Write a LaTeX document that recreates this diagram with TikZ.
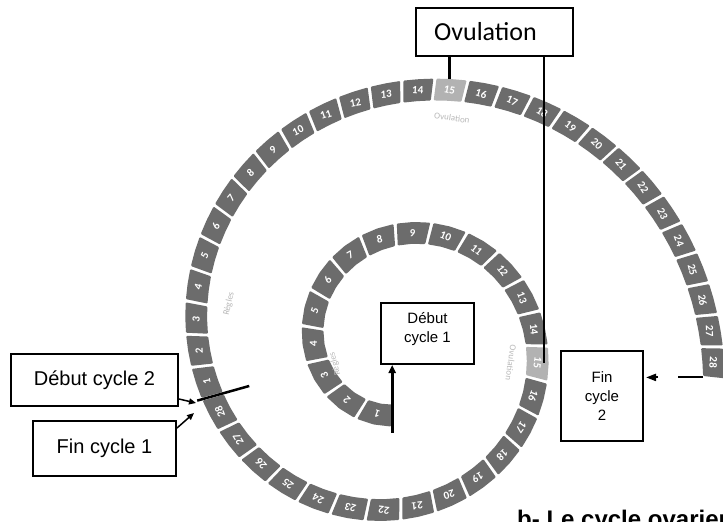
\documentclass[tikz,border=0pt]{standalone}
\usepackage{fontspec}
\setmainfont{Liberation Sans}
\newfontfamily\carl{Carlito}
\usetikzlibrary{arrows.meta}
\definecolor{blk}{RGB}{108,108,108}
\definecolor{blkL}{RGB}{178,178,178}
\definecolor{faint}{RGB}{185,185,185}
\newcommand\spiralpt[1]{%
  \pgfmathsetmacro\spR{72+(#1)/7.6075}%
  \pgfmathsetmacro\spA{deg(ln(\spR/72)/0.1326)+90}%
}
\newcommand\dayblock[5]{%
  \spiralpt{#1}\let\myAa\spA\let\myRa\spR
  \spiralpt{(#1+#2)/2}\let\myAm\spA\let\myRm\spR
  \spiralpt{#2}\let\myAb\spA\let\myRb\spR
  \fill[fill=#4, rounded corners=1pt] (\myAa:{\myRa+11}) -- (\myAm:{\myRm+11}) -- (\myAb:{\myRb+11}) -- (\myAb:{\myRb-11}) -- (\myAm:{\myRm-11}) -- (\myAa:{\myRa-11}) -- cycle;
  \node[daynum, rotate={270-\myAm}] (#5) at (\myAm:\myRm) {#3};
}
\begin{document}
\begin{tikzpicture}[x=1pt,y=-1pt,
  lbox/.style={draw=black, line width=2pt, fill=white, inner sep=0pt, align=center, anchor=north west},
  daynum/.style={text=white, font=\carl\bfseries\fontsize{11}{11}\selectfont, inner sep=0pt},
  faintlbl/.style={text=faint, font=\carl\fontsize{9}{9}\selectfont, inner sep=0pt},
  tipstyle/.style={-{Triangle[length=7pt,width=6pt]}}]
\useasboundingbox (0,0) rectangle (723,522);
\clip (0,0) rectangle (723,522);
\fill[white] (0,0) rectangle (723,522);
\begin{scope}[shift={(402,343)}]
  \foreach \i in {1,...,28}{%
    \pgfmathsetmacro\mySa{8+(\i-1)*33.6+1.5}%
    \pgfmathsetmacro\mySb{8+\i*33.6-1.5}%
    \ifnum\i=15 \def\fc{blkL}\else\def\fc{blk}\fi
    \dayblock{\mySa}{\mySb}{\i}{\fc}{a\i}%
  }
  \foreach \i in {1,...,28}{%
    \pgfmathsetmacro\mySa{948.8+(\i-1)*31.9+1.5}%
    \pgfmathsetmacro\mySb{948.8+\i*31.9-1.5}%
    \ifnum\i=15 \def\fc{blkL}\else\def\fc{blk}\fi
    \dayblock{\mySa}{\mySb}{\i}{\fc}{b\i}%
  }
  \spiralpt{8}
  \coordinate (st1) at (\spA:{\spR+17});
  \spiralpt{948.8}
  \coordinate (bnd1) at (\spA:{\spR+16});
  \coordinate (bnd2) at (\spA:{\spR-38});
  \spiralpt{1842}
  \coordinate (endIn) at (\spA:{\spR-11});
\end{scope}
% faint labels
\node[faintlbl, rotate=-8] (lblOo) at (452,118) {Ovulation};
\node[faintlbl, rotate=77] (lblRo) at (229,304) {Règles};
\node[faintlbl, rotate=105] (lblRi) at (335,364) {Règles};
\node[faintlbl, rotate=-98] (lblOi) at (511,363) {Ovulation};
% boxes
\node[lbox, minimum width=157pt, minimum height=48pt, font=\carl\fontsize{26}{26}\selectfont] (ovbox) at (415,7) {Ovulation\hspace{18pt}};
\node[lbox, minimum width=93pt, minimum height=61pt, text height=21pt, font=\fontsize{15}{19}\selectfont] (dc1) at (380,302) {Début\\cycle 1};
\node[lbox, minimum width=82pt, minimum height=90pt, font=\fontsize{15}{19}\selectfont] (fc2) at (560,350) {Fin\\cycle\\2};
\node[lbox, minimum width=167pt, minimum height=52pt, font=\fontsize{20}{24}\selectfont] (dc2) at (10,353) {Début cycle 2};
\node[lbox, minimum width=143pt, minimum height=55pt, font=\fontsize{20}{24}\selectfont] (fc1) at (32,420) {Fin cycle 1};
% connectors
\coordinate (o15top) at ([yshift=11pt]b15.center);
\coordinate (ovIn) at ([xshift=6pt]a15.center);
\coordinate (tipD) at (196,403);
\coordinate (tipF) at (194,413);
\draw[line width=3pt] (ovbox.south -| o15top) -- (o15top);
\draw[line width=2pt] (ovbox.south -| ovIn) -- (ovIn);
\draw[line width=3pt, -{Triangle[length=8pt,width=7pt]}] (st1) -- (st1 |- dc1.south);
\draw[line width=2.5pt] (bnd1) -- (bnd2);
\draw[line width=1.5pt, tipstyle] ([yshift=8pt]dc2.south east) -- (tipD);
\draw[line width=1.5pt, tipstyle] ([yshift=-8pt]fc1.north east) -- (tipF);
\draw[line width=2pt, dash pattern=on 25pt off 20pt on 80pt, -{Triangle[length=10pt,width=7pt]}, shorten >=2pt] (endIn) -- (fc2.east |- endIn);
% title
\node[anchor=base west, font=\bfseries\fontsize{24}{24}\selectfont, inner sep=0pt] (title) at (517,527.5) {b- Le cycle ovarien};
\end{tikzpicture}
\end{document}
